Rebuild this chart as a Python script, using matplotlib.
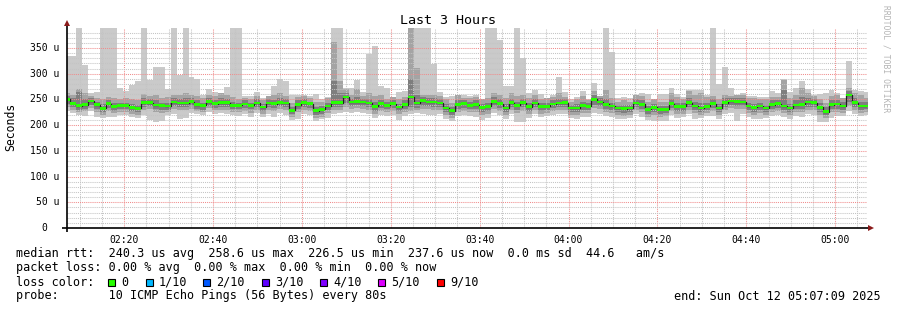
import numpy as np
import pandas as pd
import matplotlib
matplotlib.use("Agg")
import matplotlib.pyplot as plt
import matplotlib.dates as mdates
from matplotlib.ticker import MultipleLocator
from matplotlib.transforms import blended_transform_factory, ScaledTranslation
from matplotlib.patches import Rectangle

# time range of the graph (3 hours, 80 s steps)
start = pd.Timestamp("2025-10-12 02:07:09")
end = pd.Timestamp("2025-10-12 05:07:09")
step_s = 80
first_edge_offset = -39.5  # seconds, first (partial) step starts before the graph

# smoke: outer band p1/p10, second band p2/p9, inner band p3/p8 (microseconds)
ping_max = [334, 334, 390, 317, 262, 264, 390, 390, 390, 272, 266, 279, 285, 390, 287, 313, 313, 271, 390, 297,
            390, 293, 289, 258, 271, 264, 259, 274,
            390, 390, 257, 256, 264, 253, 253, 276, 289, 286, 258, 259, 258, 257, 260, 250, 255, 390, 390, 272,
            272, 287, 264, 339, 354, 276, 272,
            255, 264, 266, 390, 390, 390, 390, 319, 264, 255, 257, 257, 259, 257, 258, 250, 390, 390, 365, 276,
            277, 390, 330, 263, 268, 261, 253,
            259, 294, 264, 251, 255, 266, 250, 282, 257, 390, 342, 252, 255, 252, 259, 263, 261, 250, 261, 261,
            272, 261, 255, 268, 268, 268, 259,
            390, 280, 313, 272, 259, 263, 257, 256, 255, 254, 266, 263, 289, 264, 272, 285, 271, 259, 261, 263,
            268, 262, 253, 325, 268, 266, 264]
ping_hi2 = [262, 258, 271, 262, 256, 252, 250, 255, 252, 250, 252, 250, 248, 260, 256, 258, 252, 255, 258, 258,
            262, 258, 256, 252, 258, 256, 262, 258,
            255, 250, 252, 250, 256, 248, 256, 258, 262, 256, 243, 254, 256, 253, 246, 246, 252, 362, 285, 270,
            258, 270, 256, 262, 256, 258, 250,
            255, 250, 254, 390, 311, 258, 258, 258, 256, 250, 244, 258, 253, 252, 254, 250, 252, 262, 258, 252,
            262, 256, 258, 252, 258, 250, 252,
            255, 262, 254, 246, 250, 256, 248, 266, 256, 268, 252, 246, 248, 246, 258, 256, 246, 250, 246, 246,
            262, 255, 250, 266, 258, 262, 254,
            256, 250, 258, 256, 258, 258, 252, 252, 250, 250, 254, 254, 287, 252, 258, 272, 262, 256, 250, 244,
            256, 258, 252, 272, 262, 258, 252]
ping_hi3 = [256, 252, 265, 250, 252, 246, 242, 248, 244, 244, 244, 242, 240, 252, 250, 248, 244, 244, 252, 250,
            252, 252, 248, 244, 252, 248, 252, 250,
            246, 244, 248, 244, 250, 242, 250, 248, 252, 250, 236, 248, 250, 246, 236, 238, 244, 285, 262, 262,
            250, 254, 250, 250, 246, 248, 246,
            248, 242, 248, 290, 258, 254, 252, 252, 250, 242, 236, 248, 248, 246, 248, 242, 244, 254, 250, 242,
            250, 246, 250, 244, 250, 244, 244,
            248, 250, 250, 240, 242, 246, 244, 258, 252, 250, 244, 240, 240, 240, 250, 248, 238, 242, 238, 238,
            250, 244, 244, 252, 246, 244, 244,
            250, 242, 252, 252, 252, 252, 244, 242, 244, 240, 248, 248, 268, 242, 248, 254, 252, 250, 244, 236,
            248, 248, 246, 266, 252, 246, 246]
median = [250, 242, 238, 240, 247, 240, 233, 242, 236.5, 238.5, 238.5, 234.5, 232.5, 244, 244, 239, 238.5, 237.5,
          245, 243, 243, 246, 240, 238.5, 246, 241.5, 243.5, 244,
          238.5, 238.5, 241, 238.5, 243, 235.5, 243, 242, 244, 243, 229, 240, 244, 241.5, 228, 230.5, 237, 244,
          244, 254.5, 245, 246, 245, 243, 236.5, 241.5, 238.5,
          241.5, 235.5, 240, 254.5, 243, 247.5, 245, 245, 243, 233.5, 228, 240.5, 241.5, 238.5, 240, 234.5, 236.5,
          246, 241.5, 233.5, 243.5, 238.5, 244, 236, 243, 236.5, 236.5,
          241, 243, 243.5, 233.5, 233.5, 238.5, 236.5, 250, 245, 240.5, 237, 233.5, 232, 233.5, 243, 240.5, 230.5,
          234.5, 230.5, 230.5, 241.5, 236.5, 236.5, 243.5, 237, 233.5, 236.5,
          241.5, 233.5, 244, 247, 246, 245, 237, 234.5, 237, 233.5, 240, 241.5, 237, 233.5, 239, 240.5, 245,
          243.5, 234.5, 226.5, 240, 241, 237, 258.6, 244, 237, 237.6]
ping_lo3 = [242, 236, 230, 232, 240, 232, 226, 234, 228, 232, 232, 228, 226, 236, 238, 232, 230, 230, 238, 236,
            236, 238, 232, 230, 238, 234, 236, 236,
            232, 232, 234, 232, 236, 228, 236, 234, 238, 236, 222, 232, 236, 234, 220, 222, 230, 236, 236, 244,
            238, 240, 238, 236, 228, 234, 232,
            234, 228, 232, 236, 234, 238, 238, 236, 236, 226, 220, 232, 234, 232, 232, 226, 228, 238, 234, 226,
            236, 230, 236, 228, 236, 228, 230,
            234, 236, 236, 226, 226, 230, 230, 240, 238, 232, 230, 226, 224, 226, 236, 232, 222, 226, 222, 224,
            234, 228, 228, 236, 230, 226, 230,
            234, 226, 236, 240, 238, 238, 230, 226, 230, 226, 232, 234, 230, 226, 232, 232, 236, 236, 226, 220,
            232, 232, 230, 246, 236, 230, 232]
ping_lo2 = [236, 230, 226, 228, 234, 226, 220, 228, 224, 226, 226, 222, 220, 230, 232, 226, 224, 226, 232, 230,
            230, 232, 228, 226, 234, 230, 230, 230,
            226, 226, 228, 224, 230, 222, 230, 228, 232, 230, 216, 226, 230, 228, 214, 216, 224, 230, 230, 236,
            232, 234, 232, 230, 222, 228, 226,
            228, 222, 226, 228, 230, 232, 232, 230, 230, 220, 214, 226, 228, 226, 226, 220, 222, 232, 228, 220,
            230, 224, 228, 222, 230, 222, 224,
            228, 230, 230, 220, 220, 224, 224, 234, 232, 226, 224, 220, 218, 220, 230, 226, 216, 220, 216, 218,
            228, 222, 222, 230, 224, 220, 224,
            228, 220, 230, 234, 232, 232, 224, 220, 224, 220, 226, 228, 224, 220, 226, 226, 230, 230, 220, 214,
            226, 226, 224, 238, 230, 224, 226]
ping_min = [228, 224, 220, 218, 228, 216, 214, 216, 216, 220, 220, 216, 214, 220, 210, 207, 208, 220, 222, 212,
            214, 224, 222, 220, 226, 222, 224, 222,
            220, 218, 222, 216, 224, 216, 222, 216, 224, 220, 210, 212, 222, 220, 208, 212, 214, 222, 224, 226,
            224, 226, 224, 222, 214, 220, 218,
            220, 211, 218, 222, 224, 222, 219, 219, 222, 212, 208, 218, 220, 218, 216, 210, 214, 224, 220, 212,
            222, 206, 206, 214, 222, 216, 218,
            220, 222, 222, 214, 212, 216, 216, 224, 222, 218, 216, 212, 212, 214, 222, 216, 210, 209, 209, 209,
            220, 214, 216, 222, 212, 214, 218,
            218, 212, 222, 224, 209, 222, 216, 212, 212, 214, 218, 220, 216, 212, 218, 216, 222, 220, 206, 206,
            214, 218, 218, 228, 222, 218, 220]

y_ticks = [0, 50, 100, 150, 200, 250, 300, 350]
y_labels = ["0", "50 u", "100 u", "150 u", "200 u", "250 u", "300 u", "350 u"]

loss_labels = ["0", "1/10", "2/10", "3/10", "4/10", "5/10", "9/10"]
loss_colors = ["#26ff00", "#00b8ff", "#0059ff", "#5e00ff", "#7e00ff", "#dd00ff", "#ff0000"]

stats_rtt = "median rtt:  240.3 us avg  258.6 us max  226.5 us min  237.6 us now  0.0 ms sd  44.6   am/s"
stats_loss = "packet loss: 0.00 % avg  0.00 % max  0.00 % min  0.00 % now"
probe_txt = "probe:       10 ICMP Echo Pings (56 Bytes) every 80s"
end_txt = "end: Sun Oct 12 05:07:09 2025"

mono = "DejaVu Sans Mono"
plt.rcParams["font.family"] = mono

W, H = 897, 310
fig = plt.figure(figsize=(W / 100, H / 100), dpi=100)
fig.patch.set_facecolor("white")
ax = fig.add_axes([67 / W, 82 / H, 800 / W, 200 / H])

n = len(median)
edges = start + pd.to_timedelta(first_edge_offset + np.arange(n + 1) * step_s, unit="s")
xe = mdates.date2num(edges.to_pydatetime())


def ext(a):
    a = np.asarray(a, dtype=float)
    return np.append(a, a[-1])


med = ext(median)
bands = [(ping_min, ping_max, "#cacaca"),
         (ping_lo2, ping_hi2, "#a4a4a4"),
         (ping_lo3, ping_hi3, "#7e7e7e")]
for lo, hi, c in bands:
    ax.fill_between(xe, ext(lo), ext(hi), step="post", color=c, lw=0, antialiased=False, zorder=1)

# median: thin dark line + green band for 0 loss
ax.step(xe, med, where="post", color="#202020", lw=0.9, zorder=3)
ax.fill_between(xe, med - 2.6, med + 2.6, step="post", color=loss_colors[0], lw=0,
                antialiased=False, zorder=4)

ax.set_xlim(mdates.date2num(start.to_pydatetime()), mdates.date2num(end.to_pydatetime()))
ax.set_ylim(0, 389)

# grid
ax.xaxis.set_major_locator(mdates.MinuteLocator(byminute=[0, 20, 40]))
ax.xaxis.set_minor_locator(mdates.MinuteLocator(byminute=range(0, 60, 5)))
ax.xaxis.set_major_formatter(mdates.DateFormatter("%H:%M"))
ax.set_yticks(y_ticks)
ax.yaxis.set_minor_locator(MultipleLocator(10))
ax.set_yticklabels([])
ax.grid(which="minor", color="#c4c4c4", lw=0.75, ls=(0, (1, 1)), zorder=2)
ax.grid(which="major", color="#f08c8c", lw=0.75, ls=(0, (1, 1)), zorder=2.2)
ax.set_axisbelow(False)

ax.tick_params(axis="both", which="both", length=0)
ax.tick_params(axis="x", labelsize=7, pad=5)
for s in ax.spines.values():
    s.set_visible(False)

# y tick labels
tr = blended_transform_factory(ax.transAxes, ax.transData)
for v, lab in zip(y_ticks, y_labels):
    dx = -8 / 100 if lab != "0" else -19.5 / 100
    ax.text(0, v, lab, transform=tr + ScaledTranslation(dx, 0, fig.dpi_scale_trans),
            ha="right", va="center", fontsize=7)

# axis lines and arrows
ax.plot([-5 / 800, 1.0 + 2 / 800], [0, 0], transform=ax.transAxes, color="black", lw=1.2,
        clip_on=False, zorder=6, solid_capstyle="butt")
ax.plot([0, 0], [-4 / 200, 1.0 + 2 / 200], transform=ax.transAxes, color="black", lw=1.2,
        clip_on=False, zorder=6, solid_capstyle="butt")
ax.plot([1.0 + 4 / 800], [0], transform=ax.transAxes, marker=">", ms=4.5, color="#8b1a1a",
        clip_on=False, zorder=7, mew=0)
ax.plot([0], [1.0 + 5 / 200], transform=ax.transAxes, marker="^", ms=4.5, color="#8b1a1a",
        clip_on=False, zorder=7, mew=0)


def ft(x, y, s, **kw):
    fig.text(x / W, 1 - y / H, s, **kw)


ft(448, 20, "Last 3 Hours", ha="center", va="center", fontsize=9.6)
ft(11, 127, "Seconds", ha="center", va="center", rotation=90, fontsize=8.3)
ft(886, 5, "RRDTOOL / TOBI OETIKER", ha="center", va="top", rotation=270, fontsize=5.8,
   color="#b4b4b4")

ft(16, 254, stats_rtt, ha="left", va="center", fontsize=8.5)
ft(16, 268, stats_loss, ha="left", va="center", fontsize=8.5)
ft(16, 282, "loss color:", ha="left", va="center", fontsize=8.5)
box_x = [108, 146, 203, 262, 320, 378, 437]
for bx, lab, c in zip(box_x, loss_labels, loss_colors):
    fig.patches.append(Rectangle((bx / W, 1 - 286 / H), 7 / W, 7 / H, transform=fig.transFigure,
                                 facecolor=c, edgecolor="black", lw=0.8))
    ft(bx + 13, 282, lab, ha="left", va="center", fontsize=8.5)
ft(16, 296, probe_txt, ha="left", va="center", fontsize=8.5)
ft(881, 296, end_txt, ha="right", va="center", fontsize=8.5)

fig.savefig("out.png", dpi=100, facecolor="white")
